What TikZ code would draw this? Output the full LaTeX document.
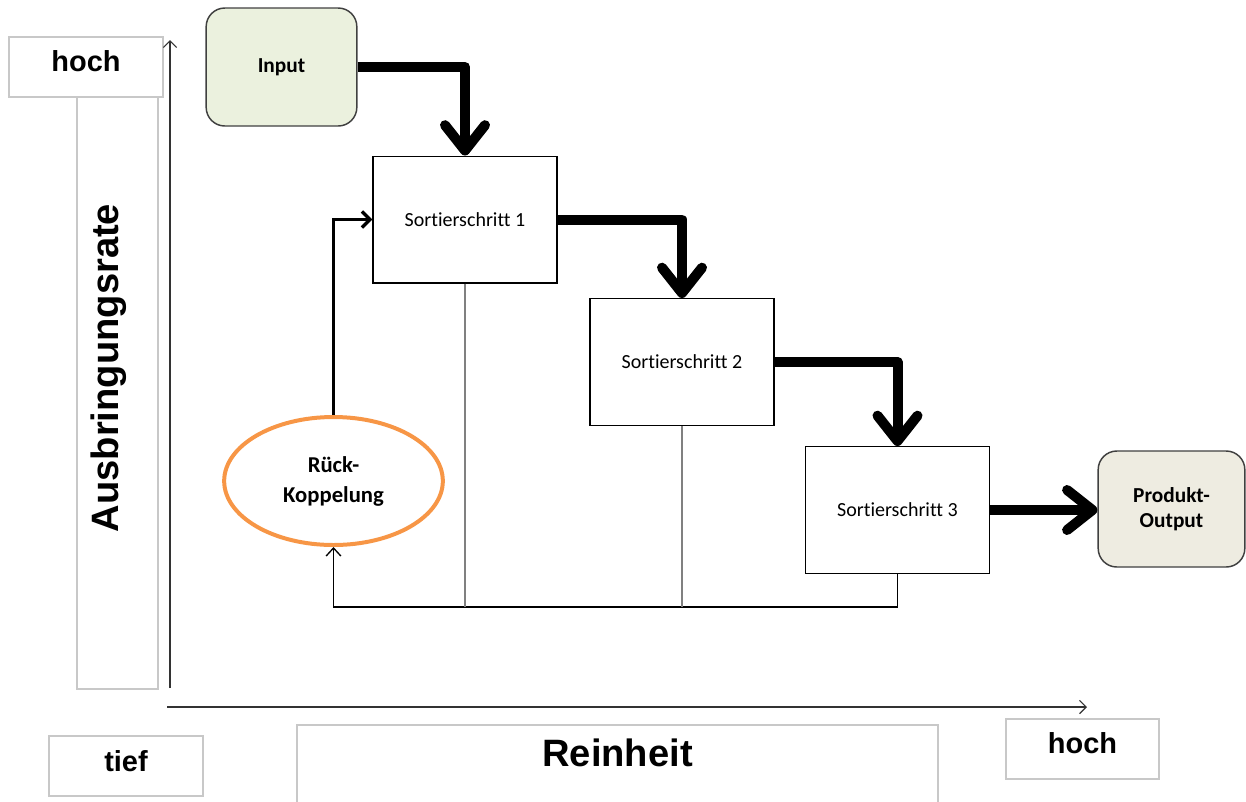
\documentclass[tikz,border=0pt]{standalone}
\usepackage{fontspec}
\setmainfont[Ligatures=NoCommon]{Carlito}
\newfontfamily\axisfont{Liberation Sans}
\usepackage{xcolor}
\usetikzlibrary{shapes.geometric, arrows.meta}

\definecolor{inputgreen}{HTML}{EBF1DE}
\definecolor{outputtan}{HTML}{EEECE1}
\definecolor{fborange}{HTML}{F79646}
\definecolor{boxgray}{HTML}{C8C8C8}

\begin{document}
\begin{tikzpicture}[
    x=0.75pt, y=-0.75pt,
    block/.style={rectangle, draw, line width=1pt, fill=white, minimum width=138pt, minimum height=95pt, inner sep=0pt, font=\fontsize{15}{18}\selectfont},
    term/.style={rectangle, draw=black!75, line width=1.1pt, rounded corners=14pt, inner sep=0pt, align=center, font=\bfseries\fontsize{16}{19}\selectfont},
    axisbox/.style={draw=boxgray, line width=1.1pt},
    axislabel/.style={font=\axisfont\bfseries\fontsize{21.7}{26}\selectfont},
    flow/.style={draw, line width=7.5pt, line join=round, -{Straight Barb[length=19pt, width=30pt, round]}},
    line/.style={draw, line width=2.5pt, -{Straight Barb[length=6pt, width=12pt]}},
    back/.style={draw, line width=1pt, -{Straight Barb[length=6pt, width=11pt]}},
    tap/.style={draw=gray, line width=1.6pt},
    axis/.style={draw=black!80, line width=0.9pt, -{Straight Barb[length=5pt, width=10pt]}}
]
    \useasboundingbox (0,0) rectangle (1246,801);

    % Axis frames
    \draw [axisbox] (9,37) rectangle (163,97);
    \draw [axisbox] (77,97) rectangle (158,689);
    \draw [axisbox] (49,736) rectangle (203,796);
    \draw [axisbox] (297,725) rectangle (938,815);
    \draw [axisbox] (1006,719) rectangle (1159,779);

    % Axis labels
    \node [axislabel] (hochy) at (86,61.5) {hoch};
    \node [axislabel] (tief) at (126,761) {tief};
    \node [axislabel] (hochx) at (1082.5,743.5) {hoch};
    \node [axislabel, font=\axisfont\bfseries\fontsize{28.6}{34}\selectfont] (reinheit) at (617.5,753) {Reinheit};
    \node [axislabel, font=\axisfont\bfseries\fontsize{28.6}{34}\selectfont, rotate=90] (rate) at (109,368) {Ausbringungsrate};

    % Axes
    \coordinate (ybot) at (170,688);
    \coordinate (ytop) at (170,40);
    \coordinate (xleft) at (167,707);
    \coordinate (xright) at (1087,707);
    \path [axis] (ybot) -- (ytop);
    \path [axis] (xleft) -- (xright);

    % Nodes
    \node [term, fill=inputgreen, minimum width=113pt, minimum height=88.5pt] (input) at (281.5,67) {Input};
    \node [block] (s1) at (465,219.5) {Sortierschritt 1};
    \node [block] (s2) at (682,362) {Sortierschritt 2};
    \node [block] (s3) at (897.5,510) {Sortierschritt 3};
    \node [term, fill=outputtan, minimum width=110pt, minimum height=87pt] (output) at (1171.5,509) {Produkt-\\Output};
    \node [ellipse, draw=fborange, line width=3pt, minimum width=164pt, minimum height=96pt, inner sep=0pt, align=center, font=\bfseries\fontsize{17}{22.5}\selectfont] (rk) at (333.5,481) {Rück-\\Koppelung};

    % Paths
    \coordinate (bus) at (0,607);
    \path [back] (s3.south) -- (s3.south |- bus) -- (rk.south |- bus) -- (rk.south);
    \path [tap] (s1.south) -- (s1.south |- bus);
    \path [tap] (s2.south) -- (s2.south |- bus);
    \path [line] (rk.north) |- (s1.west);
    \path [flow] (input.east) -| (s1.north);
    \path [flow] (s1.east) -| (s2.north);
    \path [flow] (s2.east) -| (s3.north);
    \path [flow] (s3.east) -- (s3.east -| output.west);

\end{tikzpicture}
\end{document}
